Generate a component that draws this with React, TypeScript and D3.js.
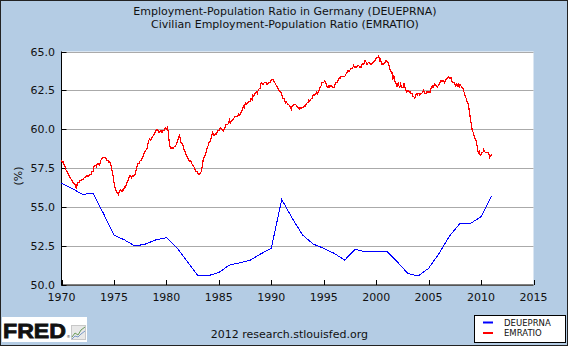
import React from "react";
import * as d3 from "d3";

const W = 568;
const H = 346;

const titleLines = [
  "Employment-Population Ratio in Germany (DEUEPRNA)",
  "Civilian Employment-Population Ratio (EMRATIO)",
];
const yTicks = [50, 52.5, 55, 57.5, 60, 62.5, 65];
const xTicks = [1970, 1975, 1980, 1985, 1990, 1995, 2000, 2005, 2010, 2015];

// Germany, annual
const deYears = [
  1970, 1971, 1972, 1973, 1974, 1975, 1976, 1977, 1978, 1979, 1980, 1981, 1982, 1983,
  1984, 1985, 1986, 1987, 1988, 1989, 1990, 1991, 1992, 1993, 1994, 1995, 1996, 1997,
  1998, 1999, 2000, 2001, 2002, 2003, 2004, 2005, 2006, 2007, 2008, 2009, 2010, 2011,
];
const deValues = [
  56.53, 56.2, 55.82, 55.89, 54.6, 53.2, 52.9, 52.5, 52.63, 52.9, 53.04, 52.4, 51.5, 50.6,
  50.6, 50.8, 51.28, 51.43, 51.6, 52.0, 52.36, 55.5, 54.28, 53.2, 52.63, 52.36, 52.03, 51.6,
  52.3, 52.12, 52.18, 52.18, 51.5, 50.75, 50.58, 51.07, 52.03, 53.15, 53.96, 53.96, 54.39, 55.72,
];

// US EMRATIO, monthly from Jan 1970
const emStartYear = 1970;
const emValues = [
  // 1970
  58.0, 57.9, 57.9, 57.7, 57.6, 57.4, 57.3, 57.2, 57.1, 57.0, 56.9, 56.8,
  // 1971
  56.7, 56.6, 56.5, 56.5, 56.4, 56.2, 56.5, 56.6, 56.6, 56.7, 56.7, 56.8,
  // 1972
  56.8, 56.8, 56.9, 56.9, 57.0, 57.0, 57.0, 57.0, 57.1, 57.1, 57.1, 57.3,
  // 1973
  57.3, 57.6, 57.7, 57.7, 57.6, 57.8, 57.8, 57.7, 57.8, 58.0, 58.1, 58.2,
  // 1974
  58.2, 58.2, 58.2, 58.1, 58.0, 58.0, 57.9, 57.9, 57.8, 57.6, 57.3, 57.0,
  // 1975
  56.6, 56.3, 56.1, 56.0, 55.9, 55.8, 56.0, 56.1, 56.1, 56.0, 56.1, 56.1,
  // 1976
  56.3, 56.3, 56.4, 56.6, 56.7, 56.9, 57.0, 57.0, 56.9, 57.0, 57.0, 57.0,
  // 1977
  57.1, 57.3, 57.5, 57.8, 57.8, 57.8, 58.0, 58.0, 58.1, 58.2, 58.4, 58.5,
  // 1978
  58.6, 58.7, 58.8, 59.1, 59.3, 59.4, 59.3, 59.4, 59.5, 59.6, 59.7, 59.8,
  // 1979
  59.9, 60.0, 60.0, 59.8, 59.8, 59.9, 59.9, 59.8, 59.9, 59.9, 60.0, 60.1,
  // 1980
  60.0, 60.1, 59.9, 59.3, 58.9, 58.8, 58.8, 58.8, 58.8, 58.9, 58.9, 59.0,
  // 1981
  59.1, 59.3, 59.5, 59.6, 59.4, 59.1, 59.1, 59.0, 58.7, 58.6, 58.5, 58.3,
  // 1982
  58.2, 58.1, 58.0, 57.9, 58.0, 57.8, 57.7, 57.7, 57.5, 57.4, 57.3, 57.3,
  // 1983
  57.2, 57.1, 57.1, 57.2, 57.3, 57.6, 58.0, 58.2, 58.3, 58.4, 58.7, 58.8,
  // 1984
  59.0, 59.2, 59.2, 59.4, 59.6, 59.8, 59.6, 59.6, 59.7, 59.7, 59.8, 59.9,
  // 1985
  59.9, 60.0, 60.1, 60.0, 60.0, 59.9, 60.0, 60.1, 60.3, 60.3, 60.3, 60.4,
  // 1986
  60.6, 60.4, 60.5, 60.6, 60.6, 60.7, 60.8, 60.8, 60.8, 60.8, 60.9, 61.0,
  // 1987
  60.9, 61.1, 61.1, 61.3, 61.5, 61.4, 61.6, 61.7, 61.6, 61.7, 61.8, 61.8,
  // 1988
  61.8, 62.0, 61.9, 62.2, 62.1, 62.3, 62.3, 62.4, 62.3, 62.5, 62.6, 62.6,
  // 1989
  62.9, 63.0, 62.9, 62.9, 63.0, 63.0, 63.0, 62.9, 62.9, 63.0, 63.0, 63.0,
  // 1990
  63.2, 63.2, 63.2, 63.1, 63.0, 62.9, 62.8, 62.7, 62.6, 62.5, 62.4, 62.4,
  // 1991
  62.2, 62.0, 62.0, 62.0, 61.7, 61.8, 61.7, 61.6, 61.6, 61.5, 61.4, 61.3,
  // 1992
  61.5, 61.5, 61.6, 61.6, 61.6, 61.5, 61.4, 61.4, 61.3, 61.4, 61.3, 61.4,
  // 1993
  61.4, 61.4, 61.5, 61.5, 61.6, 61.7, 61.7, 61.9, 61.8, 61.9, 62.0, 62.0,
  // 1994
  62.2, 62.2, 62.2, 62.3, 62.4, 62.3, 62.4, 62.6, 62.7, 62.8, 63.0, 63.0,
  // 1995
  63.0, 63.1, 63.0, 62.9, 62.7, 62.7, 62.8, 62.7, 62.8, 62.8, 62.7, 62.7,
  // 1996
  62.7, 62.9, 63.0, 63.0, 63.1, 63.2, 63.3, 63.3, 63.4, 63.4, 63.4, 63.4,
  // 1997
  63.4, 63.5, 63.6, 63.7, 63.8, 63.7, 63.8, 63.9, 63.9, 63.9, 64.1, 64.0,
  // 1998
  64.0, 64.0, 64.0, 64.1, 64.1, 64.0, 64.0, 64.0, 64.2, 64.2, 64.2, 64.4,
  // 1999
  64.4, 64.2, 64.2, 64.3, 64.3, 64.2, 64.2, 64.2, 64.3, 64.3, 64.4, 64.4,
  // 2000
  64.6, 64.6, 64.6, 64.7, 64.4, 64.5, 64.2, 64.2, 64.2, 64.2, 64.3, 64.4,
  // 2001
  64.4, 64.3, 64.3, 64.0, 63.8, 63.7, 63.7, 63.2, 63.5, 63.2, 63.0, 62.9,
  // 2002
  62.7, 63.0, 62.8, 62.7, 62.9, 62.7, 62.7, 62.7, 63.0, 62.7, 62.5, 62.4,
  // 2003
  62.5, 62.5, 62.4, 62.4, 62.3, 62.3, 62.1, 62.1, 62.0, 62.1, 62.3, 62.2,
  // 2004
  62.3, 62.3, 62.2, 62.3, 62.3, 62.4, 62.5, 62.4, 62.3, 62.3, 62.4, 62.4,
  // 2005
  62.4, 62.4, 62.4, 62.7, 62.8, 62.7, 62.8, 62.9, 62.8, 62.8, 62.7, 62.8,
  // 2006
  62.9, 63.0, 63.1, 63.1, 63.1, 63.1, 63.0, 63.1, 63.2, 63.3, 63.3, 63.4,
  // 2007
  63.3, 63.3, 63.3, 63.0, 63.0, 63.0, 62.9, 62.8, 62.9, 62.8, 62.9, 62.7,
  // 2008
  62.9, 62.8, 62.7, 62.7, 62.5, 62.3, 62.1, 62.0, 61.8, 61.7, 61.4, 61.0,
  // 2009
  60.6, 60.3, 59.9, 59.8, 59.6, 59.4, 59.3, 59.1, 58.7, 58.5, 58.6, 58.3,
  // 2010
  58.4, 58.5, 58.5, 58.7, 58.6, 58.5, 58.5, 58.5, 58.5, 58.4, 58.2, 58.3,
  // 2011
  58.4,
];

const legendItems = [
  { label: "DEUEPRNA", color: "#0000ff" },
  { label: "EMRATIO", color: "#ff0000" },
];

const FONT = "'DejaVu Sans', Verdana, sans-serif";

export default function App() {
  const left = 61.5;
  const right = 533.5;
  const top = 51.5;
  const bottom = 285;

  const x = d3.scaleLinear().domain([1970, 2015]).range([left, right]);
  const y = d3.scaleLinear().domain([50, 65]).range([bottom, top]);

  const deData = deYears.map((yr, i) => ({ t: yr, v: deValues[i] }));
  const emData = emValues.map((v, i) => ({ t: emStartYear + i / 12, v }));

  const line = d3
    .line<{ t: number; v: number }>()
    .x((d) => x(d.t))
    .y((d) => y(d.v));

  return (
    <svg
      width={W}
      height={H}
      style={{ position: "absolute", left: 0, top: 0, display: "block" }}
      fontFamily={FONT}
    >
      <rect x={0.5} y={0.5} width={W - 1} height={H - 1} fill="#b4cce4" stroke="#222" />
      {titleLines.map((t, i) => (
        <text key={i} x={285} y={15 + i * 12.5} textAnchor="middle" fontSize={11} fill="#111">
          {t}
        </text>
      ))}
      <rect x={left} y={top} width={right - left} height={bottom - top} fill="#fff" />
      {yTicks.map((v) => (
        <line
          key={v}
          x1={left}
          x2={right}
          y1={Math.round(y(v)) + 0.5}
          y2={Math.round(y(v)) + 0.5}
          stroke="#aaaaaa"
        />
      ))}
      {yTicks.map((v) => (
        <g key={"yt" + v}>
          <line
            x1={left}
            x2={left + 5}
            y1={Math.round(y(v)) + 0.5}
            y2={Math.round(y(v)) + 0.5}
            stroke="#000"
          />
          <text x={55} y={y(v) + 4} textAnchor="end" fontSize={11} fill="#111">
            {v.toFixed(1)}
          </text>
        </g>
      ))}
      {xTicks.map((t) => (
        <g key={"xt" + t}>
          <line
            x1={Math.round(x(t)) + 0.5}
            x2={Math.round(x(t)) + 0.5}
            y1={bottom}
            y2={bottom - 5}
            stroke="#000"
          />
          <text x={x(t)} y={300.5} textAnchor="middle" fontSize={11} fill="#111">
            {t}
          </text>
        </g>
      ))}
      <line x1={left} x2={left} y1={top} y2={bottom + 0.5} stroke="#000" />
      <line x1={left} x2={right} y1={bottom} y2={bottom} stroke="#000" />
      <text
        transform={`translate(22,176) rotate(-90)`}
        textAnchor="middle"
        fontSize={11}
        fill="#111"
      >
        (%)
      </text>
      <path
        d={line(deData) || ""}
        fill="none"
        stroke="#0000ff"
        strokeWidth={1}
        shapeRendering="crispEdges"
      />
      <path
        d={line(emData) || ""}
        fill="none"
        stroke="#ff0000"
        strokeWidth={1.2}
        shapeRendering="crispEdges"
      />

      {/* legend */}
      <rect x={474.5} y={315.5} width={91} height={27} fill="#fff" stroke="#000" />
      {legendItems.map((it, i) => (
        <g key={it.label}>
          <line x1={483} x2={493} y1={322.5 + i * 10.5} y2={322.5 + i * 10.5} stroke={it.color} strokeWidth={2} />
          <text x={504} y={325.5 + i * 10.5} fontSize={8.5} fill="#111">
            {it.label}
          </text>
        </g>
      ))}

      {/* FRED logo */}
      <rect x={2} y={317} width={85} height={25} fill="#fff" />
      <text
        x={3}
        y={337.7}
        fontSize={20}
        fontWeight="bold"
        fill="#111"
        stroke="#111"
        strokeWidth={0.8}
        fontFamily="'Liberation Sans', Arial, sans-serif"
        textLength={63}
        lengthAdjust="spacingAndGlyphs"
      >
        FRED
      </text>
      <text x={66.5} y={337.5} fontSize={4} fill="#333">®</text>
      <rect x={71.5} y={325.5} width={14} height={14} fill="#e8e8e8" stroke="#c8c8c8" />
      <polyline points="72,337 75,333 78,335 81,330 85,327" fill="none" stroke="#6a9a5a" strokeWidth={1} />
      <polyline points="72,339 75,336 78,337 81,334 85,331" fill="none" stroke="#7a9ac8" strokeWidth={1} />

      <text x={210.7} y={338} fontSize={11} fill="#111">
        2012 research.stlouisfed.org
      </text>
    </svg>
  );
}
